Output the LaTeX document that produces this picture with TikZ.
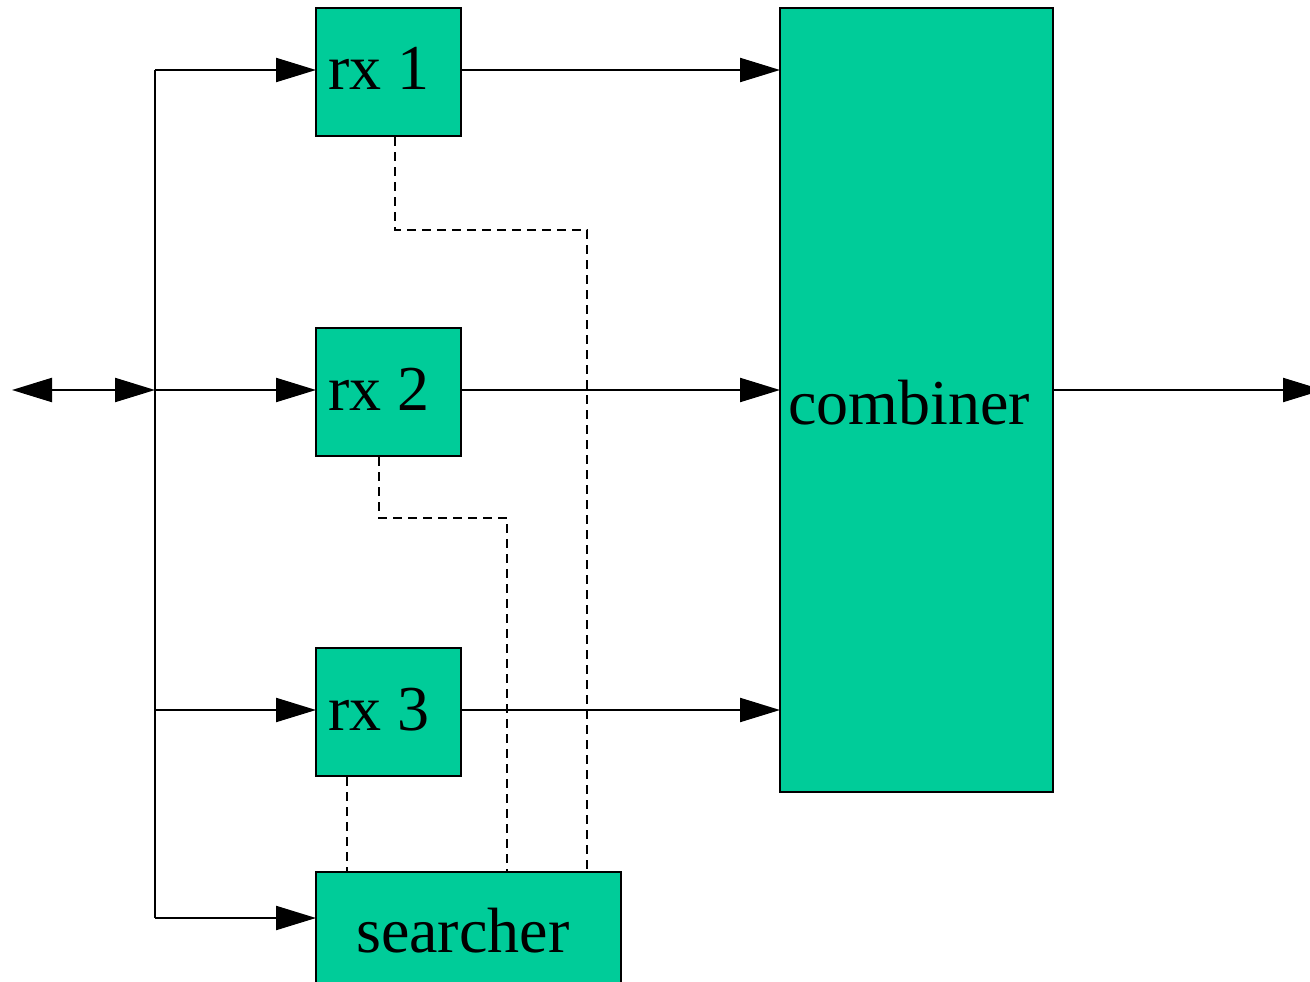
\documentclass[tikz,border=0pt]{standalone}
\usepackage{fontspec}
\setmainfont{Liberation Serif}
\usetikzlibrary{arrows.meta}
\definecolor{boxgreen}{RGB}{0,204,153}
\begin{document}
\begin{tikzpicture}[x=1pt,y=-1pt,
  blk/.style={draw=black,line width=2.2pt,fill=boxgreen},
  lbl/.style={inner sep=0pt,font=\fontsize{64}{70}\selectfont},
  wire/.style={line width=2.2pt},
  arr/.style={wire,-{Triangle[length=40pt,width=24pt]}},
  dsh/.style={line width=2.2pt,dash pattern=on 9pt off 6pt}]
\useasboundingbox (0,0) rectangle (1310,982);
\begin{scope}
\clip (0,0) rectangle (1310,982);
\path[blk] (316,8) rectangle (461,136);
\path[blk] (316,328) rectangle (461,456);
\path[blk] (316,648) rectangle (461,776);
\path[blk] (780,8) rectangle (1053,792);
\path[blk] (316,872) rectangle (621,990);
\coordinate (combe) at (1053,390);
\coordinate (outend) at (1323,390);
\draw[arr] (combe) -- (outend);
\end{scope}
\coordinate (rxonew) at (316,70);
\coordinate (rxtwow) at (316,390);
\coordinate (rxthreew) at (316,710);
\coordinate (searchw) at (316,918);
\coordinate (rxonee) at (461,70);
\coordinate (rxtwoe) at (461,390);
\coordinate (rxthreee) at (461,710);
\coordinate (combone) at (780,70);
\coordinate (combtwo) at (780,390);
\coordinate (combthree) at (780,710);
\coordinate (inend) at (12,390);
\coordinate (bustop) at (155,70);
\coordinate (busmid) at (155,390);
\coordinate (busthree) at (155,710);
\coordinate (busbot) at (155,918);
\node[lbl,anchor=base west] (rxone) at (328,90) {rx 1};
\node[lbl,anchor=base west] (rxtwo) at (328,410) {rx 2};
\node[lbl,anchor=base west] (rxthree) at (328,730) {rx 3};
\node[lbl,anchor=base west] (comb) at (788,424) {combiner};
\node[lbl,anchor=base west] (search) at (356,952) {searcher};
\draw[wire] (bustop) -- (busbot);
\draw[wire,{Triangle[length=40pt,width=24pt]}-{Triangle[length=40pt,width=24pt]}] (inend) -- (busmid);
\draw[arr] (bustop) -- (rxonew);
\draw[arr] (busmid) -- (rxtwow);
\draw[arr] (busthree) -- (rxthreew);
\draw[arr] (busbot) -- (searchw);
\draw[arr] (rxonee) -- (combone);
\draw[arr] (rxtwoe) -- (combtwo);
\draw[arr] (rxthreee) -- (combthree);
\draw[dsh] (395,137) -- (395,230) -- (587,230) -- (587,871);
\draw[dsh] (379,457) -- (379,518) -- (507,518) -- (507,871);
\draw[dsh] (347,777) -- (347,871);
\end{tikzpicture}
\end{document}
